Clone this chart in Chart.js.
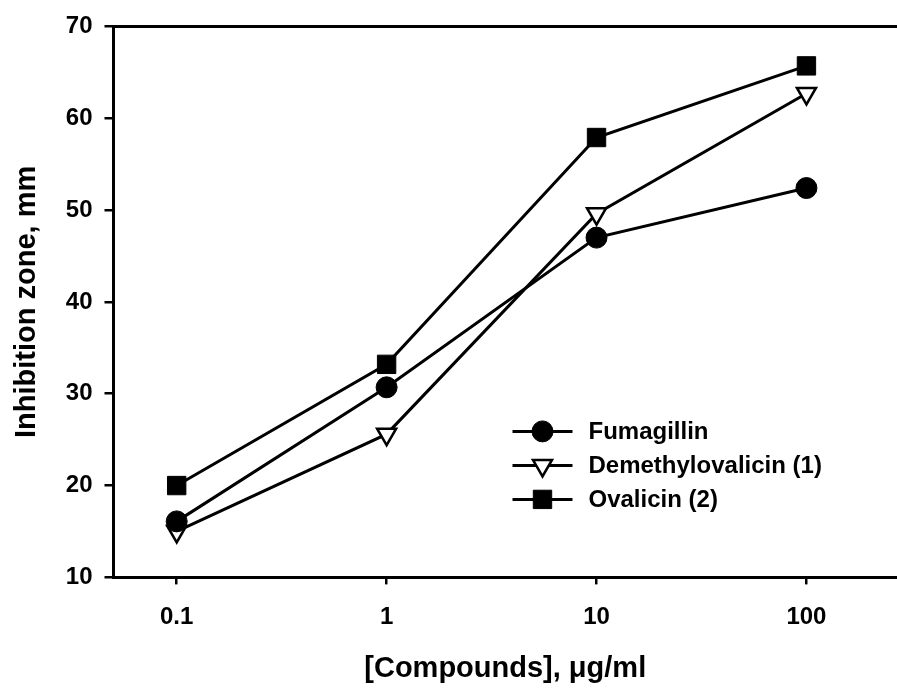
<!DOCTYPE html>
<html>
<head>
<meta charset="utf-8">
<script src="https://cdn.jsdelivr.net/npm/chart.js@4.4.1/dist/chart.umd.min.js"></script>
<style>
  html, body { margin: 0; padding: 0; background: #fff; overflow: hidden; }
  #wrap { width: 897px; height: 688px; }
</style>
</head>
<body>
<div id="wrap"><canvas id="c"></canvas></div>
<script>
// doses on a log axis, ug/ml
const doses = [0.1, 1, 10, 100];
const doseLabels = ['0.1', '1', '10', '100'];
// inhibition zone, mm
const fumagillin = [16.1, 30.7, 47.0, 52.4];
const demethylovalicin = [15.0, 25.6, 49.6, 62.7];
const ovalicin = [20.0, 33.2, 57.9, 65.7];

const FONT = '"Liberation Sans", Arial, Helvetica, sans-serif';

function pts(vals) {
  return doses.map((x, i) => ({ x: x, y: vals[i] }));
}

// legend with line + marker, drawn inside the plot; also the top frame line
const insideLegend = {
  id: 'insideLegend',
  afterDraw(chart) {
    const { ctx, chartArea } = chart;
    ctx.save();
    ctx.strokeStyle = '#000';
    ctx.lineWidth = 3;
    ctx.beginPath();
    ctx.moveTo(chartArea.left, chartArea.top);
    ctx.lineTo(chartArea.right, chartArea.top);
    ctx.stroke();

    const x0 = chartArea.left + 399, x1 = chartArea.left + 459, tx = chartArea.left + 475;
    let y = chartArea.top + 405;
    ctx.font = 'bold 24px ' + FONT;
    ctx.textBaseline = 'middle';
    chart.data.datasets.forEach(ds => {
      ctx.strokeStyle = '#000';
      ctx.lineWidth = ds.borderWidth;
      ctx.beginPath();
      ctx.moveTo(x0, y);
      ctx.lineTo(x1, y);
      ctx.stroke();
      ctx.fillStyle = ds.pointBackgroundColor;
      ctx.lineWidth = ds.pointBorderWidth;
      Chart.helpers.drawPoint(ctx, {
        pointStyle: ds.pointStyle,
        rotation: ds.pointRotation || 0,
        radius: ds.pointRadius,
        borderWidth: ds.pointBorderWidth
      }, (x0 + x1) / 2, y);
      ctx.fillStyle = '#000';
      ctx.fillText(ds.label, tx, y + 1);
      y += 34;
    });
    ctx.restore();
  }
};

new Chart(document.getElementById('c'), {
  type: 'line',
  data: {
    datasets: [
      {
        label: 'Fumagillin',
        data: pts(fumagillin),
        borderColor: '#000', borderWidth: 3,
        pointStyle: 'circle', pointRadius: 10.5,
        pointBackgroundColor: '#000', pointBorderColor: '#000', pointBorderWidth: 1
      },
      {
        label: 'Demethylovalicin (1)',
        data: pts(demethylovalicin),
        borderColor: '#000', borderWidth: 3,
        pointStyle: 'triangle', pointRotation: 180, pointRadius: 11,
        pointBackgroundColor: '#fff', pointBorderColor: '#000', pointBorderWidth: 2.5
      },
      {
        label: 'Ovalicin (2)',
        data: pts(ovalicin),
        borderColor: '#000', borderWidth: 3,
        pointStyle: 'rect', pointRadius: 13,
        pointBackgroundColor: '#000', pointBorderColor: '#000', pointBorderWidth: 1
      }
    ]
  },
  options: {
    responsive: true,
    maintainAspectRatio: false,
    animation: false,
    layout: { autoPadding: false, padding: { left: 10, top: 24, right: 0, bottom: 2 } },
    plugins: {
      legend: { display: false },
      tooltip: { enabled: false }
    },
    scales: {
      x: {
        type: 'logarithmic',
        min: 0.05,
        max: 270,
        afterBuildTicks(axis) {
          axis.ticks = doses.map(v => ({ value: v }));
        },
        ticks: {
          color: '#000',
          font: { family: FONT, size: 24, weight: 'bold' },
          padding: 19,
          maxRotation: 0,
          autoSkip: false,
          callback: (v, i) => doseLabels[i]
        },
        grid: { drawOnChartArea: false, color: '#000', lineWidth: 2.5, tickLength: 7 },
        border: { color: '#000', width: 3 },
        title: {
          display: true,
          text: '[Compounds], \u03bcg/ml',
          color: '#000',
          font: { family: FONT, size: 29, weight: 'bold' },
          padding: { top: 0, bottom: 0 }
        }
      },
      y: {
        min: 10,
        max: 70,
        ticks: {
          stepSize: 10,
          color: '#000',
          font: { family: FONT, size: 24, weight: 'bold' },
          padding: 12
        },
        grid: { drawOnChartArea: false, color: '#000', lineWidth: 2.5, tickLength: 9 },
        border: { color: '#000', width: 3 },
        title: {
          display: true,
          text: 'Inhibition zone, mm',
          color: '#000',
          font: { family: FONT, size: 29, weight: 'bold' },
          padding: { top: 0, bottom: 9 }
        }
      }
    }
  },
  plugins: [insideLegend]
});
</script>
</body>
</html>
